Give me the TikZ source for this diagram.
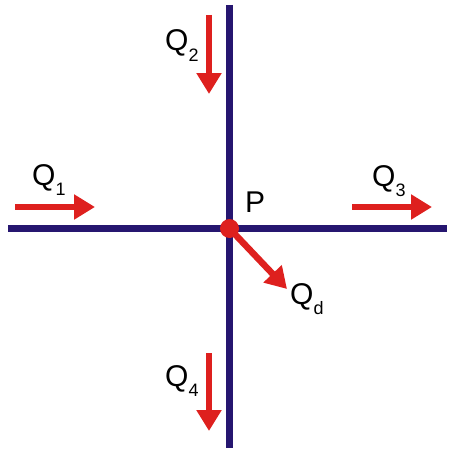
\documentclass[tikz,border=0pt]{standalone}
\usepackage{fontspec}
\setmainfont{Liberation Sans}
\usetikzlibrary{arrows.meta, positioning, calc}
\definecolor{axisblue}{RGB}{38, 22, 112}
\definecolor{flowred}{RGB}{222, 32, 30}
\newcommand{\qsub}[1]{Q\raisebox{-0.36em}{\fontsize{18}{18}\selectfont #1}}

\begin{document}
\begin{tikzpicture}[x=1pt, y=-1pt,
    axis/.style={axisblue, line width=7pt},
    flow/.style={flowred, line width=6.5pt, -{Triangle[length=21pt, width=24pt]}},
    lab/.style={anchor=base west, inner sep=0pt, font=\fontsize{30}{30}\selectfont}]
        \useasboundingbox (0,0) rectangle (450,452);

        % Linee del nodo
        \coordinate (west) at (8,228);
        \coordinate (east) at (447,228);
        \coordinate (north) at (229,5);
        \coordinate (south) at (229,448);
        \draw[axis] (west) -- (east);
        \draw[axis] (north) -- (south);

        % Portate entranti e uscenti
        \coordinate (q1a) at (15,207);  \coordinate (q1b) at (95,207);
        \coordinate (q2a) at (209,15);  \coordinate (q2b) at (209,94);
        \coordinate (q3a) at (352,207); \coordinate (q3b) at (432,207);
        \coordinate (q4a) at (209,353); \coordinate (q4b) at (209,431);
        \coordinate (qdb) at (287,289);
        \draw[flow] (q1a) -- (q1b);
        \draw[flow] (q2a) -- (q2b);
        \draw[flow] (q3a) -- (q3b);
        \draw[flow] (q4a) -- (q4b);

        % Punto P con la perdita Qd
        \node[circle, fill=flowred, minimum size=19pt, inner sep=0pt] (P) at (229.5,228.5) {};
        \draw[flow] (P.center) -- (qdb);

        % Etichette
        \node[lab] (lq1) at (32,185) {\qsub{1}};
        \node[lab] (lq2) at (165,51) {\qsub{2}};
        \node[lab] (lq3) at (372,186) {\qsub{3}};
        \node[lab] (lq4) at (165,386) {\qsub{4}};
        \node[lab] (lqd) at (290,304) {\qsub{d}};
        \node[lab] (lP) at (245,212) {P};
    \end{tikzpicture}
\end{document}
